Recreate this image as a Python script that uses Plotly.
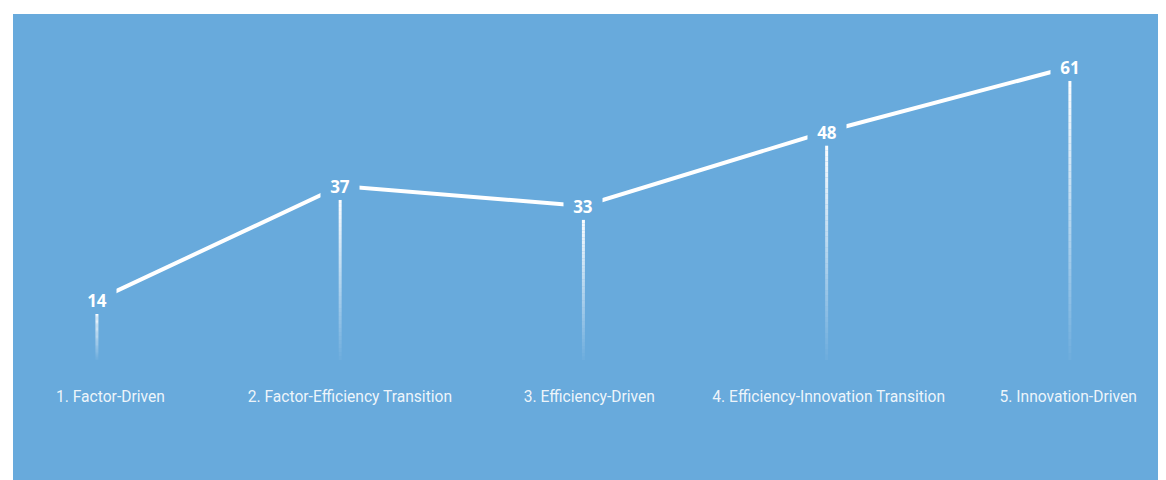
import plotly.graph_objects as go

categories = ["1. Factor-Driven", "2. Factor-Efficiency Transition", "3. Efficiency-Driven",
              "4. Efficiency-Innovation Transition", "5. Innovation-Driven"]
values = [14, 37, 33, 48, 61]

BLUE = "#68AADC"
fig = go.Figure()

# gradient drop lines (white fading to transparent)
N = 40
top_off = 2.8
base = 1.9
for k in range(N):
    xs, ys = [], []
    for c, v in zip(categories, values):
        top = v - top_off
        y0 = top - (top - base) * k / N
        y1 = top - (top - base) * (k + 1) / N
        xs += [c, c, None]
        ys += [y0, y1, None]
    alpha = max(0.0, 1.0 - (k + 0.5) / N) * 0.95 + 0.03
    fig.add_trace(go.Scatter(x=xs, y=ys, mode="lines",
                             line=dict(color=f"rgba(255,255,255,{alpha:.3f})", width=3),
                             hoverinfo="skip", showlegend=False))

# main line
fig.add_trace(go.Scatter(x=categories, y=values, mode="lines",
                         line=dict(color="white", width=4), showlegend=False))

# value labels with blue background
for c, v in zip(categories, values):
    fig.add_annotation(x=c, y=v, text=f"<b>{v}</b>", showarrow=False,
                       font=dict(family="Open Sans", size=17, color="white"),
                       bgcolor=BLUE, width=36, height=24)

# category labels (on their own slightly narrower category axis)
fig.add_trace(go.Scatter(x=categories, y=[-5.8] * len(categories), mode="text",
                         text=categories, xaxis="x2",
                         textfont=dict(family="Roboto", size=15.6, color="rgba(255,255,255,0.9)"),
                         hoverinfo="skip", showlegend=False))

fig.update_layout(
    width=1166, height=480,
    margin=dict(l=5, t=6, r=0, b=0),
    paper_bgcolor="white", plot_bgcolor=BLUE,
    xaxis=dict(type="category", range=[-0.345, 4.428], visible=False, fixedrange=True),
    xaxis2=dict(type="category", range=[-0.407, 4.442], visible=False, fixedrange=True,
                overlaying="x", matches=None),
    yaxis=dict(range=[-23.9, 71.7], visible=False, fixedrange=True),
)
fig.write_html("out.html")
